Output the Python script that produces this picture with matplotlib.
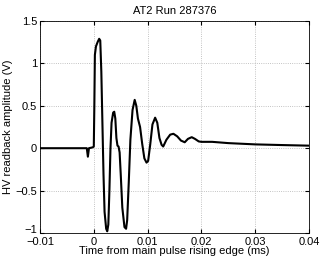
import matplotlib
matplotlib.use("Agg")
import matplotlib.pyplot as plt
import matplotlib.transforms as mtransforms

title = "AT2 Run 287376"
xlabel = "Time from main pulse rising edge (ms)"
ylabel = "HV readback amplitude (V)"

t_ms = [-0.01, -0.005, -0.002, -0.0013, -0.0011, -0.0009, -0.0002, 0.0, 0.0001, 0.0002,
        0.0004, 0.0007, 0.001, 0.0012, 0.0014, 0.0016, 0.0018, 0.002, 0.0023, 0.0025,
        0.0027, 0.0029, 0.0031, 0.0033, 0.0036, 0.0038, 0.0040, 0.0042, 0.0044, 0.0046,
        0.0048, 0.005, 0.0053, 0.0057, 0.006, 0.0062, 0.0065, 0.0068, 0.0072, 0.0076,
        0.0079, 0.0082, 0.0086, 0.009, 0.0094, 0.0098, 0.0101, 0.0105, 0.0109, 0.0114,
        0.0118, 0.0122, 0.0126, 0.0129, 0.0135, 0.0142, 0.0148, 0.0155, 0.0162, 0.0169,
        0.0175, 0.0182, 0.0188, 0.0195, 0.02, 0.022, 0.025, 0.03, 0.035, 0.04]
v_volts = [0.0, 0.0, 0.0, 0.0, -0.10, 0.0, 0.01, 0.02, 0.5, 1.1,
           1.2, 1.25, 1.29, 1.27, 0.9, 0.3, -0.3, -0.75, -0.95, -0.98,
           -0.9, -0.5, 0.0, 0.3, 0.42, 0.43, 0.35, 0.12, 0.03, 0.02,
           -0.05, -0.3, -0.7, -0.93, -0.95, -0.85, -0.4, 0.1, 0.45, 0.57,
           0.5, 0.35, 0.25, 0.05, -0.12, -0.17, -0.15, 0.05, 0.28, 0.36,
           0.3, 0.12, 0.04, 0.02, 0.1, 0.16, 0.17, 0.14, 0.09, 0.07,
           0.11, 0.13, 0.11, 0.08, 0.075, 0.075, 0.06, 0.045, 0.037, 0.03]

xticks = [-0.01, 0, 0.01, 0.02, 0.03, 0.04]
xticklabels = ["\u22120.01", "0", "0.01", "0.02", "0.03", "0.04"]
yticks = [-1, -0.5, 0, 0.5, 1, 1.5]
yticklabels = ["\u22121", "\u22120.5", "0", "0.5", "1", "1.5"]

plt.rcParams['font.family'] = ['Liberation Sans', 'DejaVu Sans']
fig = plt.figure(figsize=(3.22, 2.61), dpi=100)
ax = fig.add_axes([40/322, 1 - 233/261, 269/322, 212/261])
ax.plot(t_ms, v_volts, color='black', linewidth=1.5)
ax.set_xlim(-0.01, 0.04)
ax.set_ylim(-1, 1.5)
ax.set_xticks(xticks)
ax.set_xticklabels(xticklabels)
ax.set_yticks(yticks)
ax.set_yticklabels(yticklabels)
ax.grid(True, linestyle=':', color='#b0b0b0', linewidth=0.6)
ax.tick_params(direction='in', length=3, labelsize=8, top=True, right=True)
ax.tick_params(axis='x', pad=3)
ax.tick_params(axis='y', pad=2)
for s in ax.spines.values():
    s.set_linewidth(0.6)
ax.set_title(title, fontsize=8, pad=5)
ax.set_xlabel(xlabel, fontsize=8, labelpad=-1)
ax.set_ylabel(ylabel, fontsize=8, labelpad=2)

# nudge the lowest y tick label up a little so it clears the x tick labels
lbl = ax.get_yticklabels()[0]
lbl.set_transform(lbl.get_transform() + mtransforms.ScaledTranslation(0, 4/100, fig.dpi_scale_trans))

fig.savefig("out.png", dpi=100)
